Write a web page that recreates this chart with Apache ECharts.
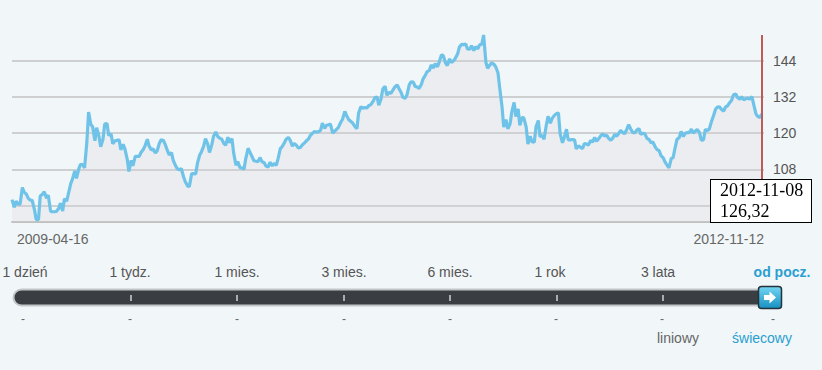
<!DOCTYPE html>
<html><head><meta charset="utf-8">
<script src="https://cdn.jsdelivr.net/npm/echarts@6/dist/echarts.min.js"></script>
<style>html,body{margin:0;padding:0;background:#f1f6f9;}#c{width:822px;height:370px;}</style>
</head><body><div id="c"></div>
<script>
// ---- data ----
const startDate = [2009, 3, 16];      // 2009-04-16 (first close)
const axisEndDate = [2012, 10, 12];   // 2012-11-12 (right end of the time axis)
const values = [
98.0, 95.5, 97.5, 96.5, 96.5, 102.0, 100.5, 99.8, 98.5, 97.8,
97.8, 94.7, 91.4, 91.4, 99.2, 99.8, 100.6, 98.5, 99.5, 94.2,
94.0, 94.0, 94.1, 95.1, 96.8, 94.2, 98.3, 97.5, 100.0, 103.3,
104.8, 107.5, 105.0, 108.2, 109.7, 109.5, 108.5, 117.0, 127.0, 122.8,
122.2, 117.5, 121.8, 119.0, 115.5, 118.0, 123.0, 123.2, 119.2, 119.8,
116.5, 117.5, 117.6, 117.8, 114.5, 116.3, 114.8, 111.5, 107.3, 111.0,
109.2, 112.3, 112.3,
112.3, 113.6, 114.6, 115.8, 118.0, 115.8, 114.4, 114.8, 113.5, 114.1,
116.7, 117.8, 117.6, 116.3, 114.2, 112.8, 113.6, 111.0, 109.3, 108.2,
107.9, 108.3, 105.5, 103.9, 102.5, 102.4, 106.6, 106.6, 106.5, 110.0,
112.8, 113.8, 115.8, 118.2, 116.4, 113.6, 116.2, 119.0, 120.4, 119.0,
118.3, 118.1, 116.6, 116.0, 118.7, 116.8, 118.2, 113.4, 109.4, 110.6,
108.6, 108.5, 108.1, 111.6, 115.0, 113.8, 112.2, 110.9, 110.7, 110.6,
111.9, 110.6, 110.2,
109.1, 108.8, 110.4, 109.2, 110.0, 109.4, 111.5, 114.9, 115.5, 116.8,
118.0, 118.6, 117.7, 115.7, 116.6, 116.0, 115.1, 115.3, 116.1, 116.8,
117.4, 118.1, 119.2, 120.0, 120.5, 120.4, 120.4, 121.0, 123.3, 121.6,
122.6, 122.8, 123.0, 120.0, 120.6, 121.3, 122.0, 123.6, 124.6, 127.2,
125.9, 124.4, 124.0, 123.3, 122.3, 121.5, 126.7, 128.8, 128.3, 128.5,
128.3, 129.2, 129.4, 130.5, 131.7, 132.0, 129.3, 131.4, 134.6, 135.5,
132.6, 133.5,
133.2, 134.4, 135.3, 136.0, 134.8, 133.4, 131.8, 131.6, 132.7, 136.1,
137.0, 136.9, 135.5, 135.3, 134.8, 136.2, 138.0, 139.2, 140.4, 140.8,
142.6, 141.6, 143.0, 142.0, 143.6, 146.0, 145.6, 143.2, 142.4, 144.6,
143.4, 144.0, 144.8, 146.3, 148.5, 149.4, 149.3, 149.5, 147.9, 147.8,
149.0, 147.3, 148.6, 147.9, 149.2, 149.5, 152.5, 143.5, 141.5, 142.6,
143.3, 142.8, 142.0, 140.0, 135.0, 128.8, 122.0, 124.5, 121.5, 123.0,
127.0, 130.2, 125.5,
128.0, 122.6, 125.3, 125.0, 122.0, 116.4, 119.0, 117.2, 117.0, 122.0,
124.2, 118.9, 119.2, 118.0, 122.7, 125.6, 123.3, 124.9, 125.9, 126.4,
126.7, 119.8, 116.8, 118.5, 121.3, 117.8, 117.8, 117.9, 117.8, 114.8,
115.8, 115.4, 114.9, 116.6, 116.4, 116.1, 117.6, 117.0, 118.6, 117.3,
118.2, 119.0, 119.8, 119.1, 119.3, 118.3, 117.7, 118.3, 119.6, 119.0,
120.0, 120.9, 120.2, 119.8, 121.4, 122.8, 121.2, 120.2, 120.2, 121.0,
121.5, 119.6, 120.0,
119.8, 118.2, 118.0, 116.8, 117.1, 115.5, 114.6, 114.2, 112.6, 111.8,
110.5, 109.3, 108.5, 111.7, 111.8, 115.5, 118.0, 118.6, 120.6, 118.9,
120.0, 120.2, 120.2, 121.3, 120.0, 120.7, 121.2, 120.2, 117.7, 117.8,
121.2, 120.9, 121.4, 124.0, 125.6, 128.0, 128.6, 128.7, 127.9, 127.3,
128.6, 129.1, 130.0, 131.0, 132.7, 133.0, 131.8, 131.2, 132.1, 131.0,
131.4, 131.6, 131.3, 132.1, 129.6, 126.4, 125.6, 125.2, 126.32
];
const yTicks = [96, 108, 120, 132, 144];
const yMin = 90.6, yMax = 152.5;
const rangeLabels = ['1 dzień', '1 tydz.', '1 mies.', '3 mies.', '6 mies.', '1 rok', '3 lata', 'od pocz.'];
const activeRange = 'od pocz.';
const chartTypes = ['liniowy', 'świecowy'];
const activeType = 'świecowy';

// ---- helpers ----
// closes sampled twice a week: Thursday, then Monday
function dayOffset(j) { return Math.floor(j / 2) * 7 + (j % 2 ? 4 : 0); }
const dates = values.map((v, j) => new Date(startDate[0], startDate[1], startDate[2] + dayOffset(j)).getTime());
const axisEnd = new Date(axisEndDate[0], axisEndDate[1], axisEndDate[2]).getTime();
const pad = n => (n < 10 ? '0' : '') + n;
function fmtDate(t) { const d = new Date(t); return d.getFullYear() + '-' + pad(d.getMonth() + 1) + '-' + pad(d.getDate()); }
function fmtNum(v) { return v.toFixed(2).replace('.', ','); }
const seriesData = values.map((v, j) => [dates[j], v]);

// ---- layout of the range selector ----
const labelX = [25, 130, 237, 344, 450, 550, 658, 782];
const dashX = [23, 130, 237, 344, 450, 556, 662, 773];
const tickX = [131, 237, 344, 450, 557, 663];
const typeX = [678, 762];
const FONT = '"Liberation Sans", Arial, sans-serif';
const BLUE = '#2a9fd0';

const graphics = [];
graphics.push({ type: 'rect', shape: { x: 13.5, y: 289.5, width: 761, height: 16, r: 8 },
  style: { fill: '#3a3d41', stroke: '#c3c6c9', lineWidth: 2 } });
tickX.forEach(x => graphics.push({ type: 'rect', shape: { x: x - 1, y: 295, width: 2, height: 6 }, style: { fill: '#a9adb0' } }));
rangeLabels.forEach((t, i) => graphics.push({ type: 'text', x: labelX[i], y: 272,
  style: { text: t, align: 'center', verticalAlign: 'middle', fontFamily: FONT, fontSize: 14,
    fontWeight: t === activeRange ? 'bold' : 'normal', fill: t === activeRange ? BLUE : '#555' } }));
dashX.forEach(x => graphics.push({ type: 'text', x: x, y: 319,
  style: { text: '-', align: 'center', verticalAlign: 'middle', fontFamily: FONT, fontSize: 12, fill: '#666' } }));
chartTypes.forEach((t, i) => graphics.push({ type: 'text', x: typeX[i], y: 338,
  style: { text: t, align: 'center', verticalAlign: 'middle', fontFamily: FONT, fontSize: 14, fill: t === activeType ? BLUE : '#666' } }));
graphics.push({ type: 'rect', shape: { x: 758.5, y: 286.5, width: 23, height: 22, r: 3 },
  style: { fill: { type: 'linear', x: 0, y: 0, x2: 0, y2: 1, colorStops: [{ offset: 0, color: '#74d6f3' }, { offset: 1, color: '#1690c2' }] },
    stroke: '#26333b', lineWidth: 1.5 } });
graphics.push({ type: 'polygon', shape: { points: [[764, 295], [769.5, 295], [769.5, 291.5], [776, 297.5], [769.5, 303.5], [769.5, 300], [764, 300]] },
  style: { fill: '#ffffff' } });

const chart = echarts.init(document.getElementById('c'), null, { renderer: 'svg' });
chart.setOption({
  animation: false,
  backgroundColor: '#f1f6f9',
  grid: { left: 12, right: 58, top: 35, bottom: 148 },
  tooltip: {
    trigger: 'axis', triggerOn: 'none', alwaysShowContent: true, transitionDuration: 0, showDelay: 0,
    position: [710, 179],
    backgroundColor: '#ffffff', borderColor: '#000000', borderWidth: 1.5, borderRadius: 0,
    padding: [0, 8, 0, 9],
    extraCssText: 'box-shadow:none;line-height:21px;',
    textStyle: { fontFamily: '"Liberation Serif", "Times New Roman", serif', fontSize: 18, color: '#000', lineHeight: 21 },
    axisPointer: { type: 'line', animation: false, label: { show: false }, lineStyle: { color: '#c05a57', width: 2, type: 'solid' } },
    formatter: params => { const p = params[0]; return fmtDate(p.value[0]) + '<br/>' + fmtNum(p.value[1]); }
  },
  xAxis: {
    type: 'value', min: dates[0], max: axisEnd,
    axisLine: { show: true, onZero: false, lineStyle: { color: '#c0c0c0', width: 2 } },
    axisTick: { show: false }, splitLine: { show: false },
    axisLabel: { customValues: [dates[0], axisEnd], formatter: v => fmtDate(v), color: '#666', fontSize: 14, fontFamily: FONT,
      margin: 10, alignMinLabel: 'left', alignMaxLabel: 'right', padding: [0, 0, 0, 5] }
  },
  yAxis: {
    type: 'value', position: 'right', min: yMin, max: yMax,
    axisLine: { show: false }, axisTick: { show: false, customValues: yTicks },
    splitLine: { show: true, lineStyle: { color: '#c2c2c2', width: 1.5 } },
    axisLabel: { customValues: yTicks, color: '#555', fontSize: 14, fontFamily: FONT, margin: 9, padding: [6, 0, 0, 0] }
  },
  series: [{
    type: 'line', data: seriesData, showSymbol: false, symbol: 'none',
    lineStyle: { color: '#66b2d3', width: 3.2 },
    areaStyle: { color: 'rgba(200,192,198,0.36)', origin: 'start' }
  }],
  graphic: graphics
});
chart.dispatchAction({ type: 'showTip', seriesIndex: 0, dataIndex: values.length - 1 });
</script></body></html>
